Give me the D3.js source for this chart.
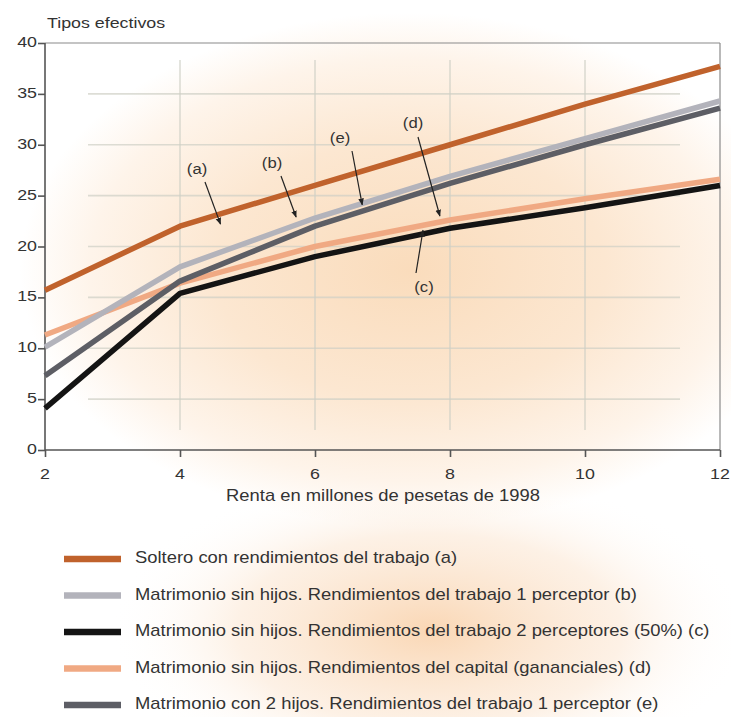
<!DOCTYPE html>
<html><head><meta charset="utf-8">
<script src="https://cdn.jsdelivr.net/npm/d3@7"></script>
<style>html,body{margin:0;padding:0;background:#fff;}svg{display:block;font-family:"Liberation Sans",Arial,sans-serif;}</style>
</head><body>
<svg id="chart" width="731" height="717"></svg>
<script>
const years = [2, 4, 6, 8, 10, 12];
const serieA = [15.7, 22.0, 26.0, 30.0, 34.0, 37.7];
const serieB = [10.1, 18.0, 22.8, 26.9, 30.6, 34.3];
const serieC = [4.1, 15.4, 19.0, 21.8, 23.8, 26.0];
const serieD = [11.3, 16.4, 20.0, 22.6, 24.7, 26.6];
const serieE = [7.3, 16.6, 22.0, 26.2, 30.0, 33.6];
const yTicks = [0, 5, 10, 15, 20, 25, 30, 35, 40];
const xTicks = [2, 4, 6, 8, 10, 12];
const legendLabels = [
  "Soltero con rendimientos del trabajo (a)",
  "Matrimonio sin hijos. Rendimientos del trabajo 1 perceptor (b)",
  "Matrimonio sin hijos. Rendimientos del trabajo 2 perceptores (50%) (c)",
  "Matrimonio sin hijos. Rendimientos del capital (gananciales) (d)",
  "Matrimonio con 2 hijos. Rendimientos del trabajo 1 perceptor (e)"
];
const seriesKeys = ["a", "b", "c", "d", "e"];
const annotations = [
  {key:"a", x:4.6, y:21.9, lx:197, ly:170, tx:205, ty:182},
  {key:"b", x:5.72, y:22.6, lx:272, ly:164, tx:281, ty:176},
  {key:"e", x:6.7, y:23.8, lx:340, ly:139, tx:352, ty:151},
  {key:"d", x:7.85, y:22.7, lx:413, ly:124, tx:418, ty:137},
  {key:"c", x:7.6, y:21.3, lx:424, ly:288, tx:416, ty:273}
];

const colors = {a:"#c0622c", b:"#b3b3bb", c:"#141414", d:"#f0a983", e:"#5d5e65"};
const allSeries = {a:serieA, b:serieB, c:serieC, d:serieD, e:serieE};
const SX = 1.15;

const svg = d3.select("#chart");
const defs = svg.append("defs");
const g1 = defs.append("radialGradient").attr("id","glow1")
  .attr("gradientUnits","userSpaceOnUse").attr("cx",410).attr("cy",270).attr("r",390)
  .attr("gradientTransform","translate(410,270) scale(1,0.66) translate(-410,-270)");
g1.append("stop").attr("offset","0").attr("stop-color","#fadcbc");
g1.append("stop").attr("offset","0.5").attr("stop-color","#fce7d1");
g1.append("stop").attr("offset","0.82").attr("stop-color","#fef4ea");
g1.append("stop").attr("offset","1").attr("stop-color","#ffffff");
const g2 = defs.append("radialGradient").attr("id","glow2")
  .attr("gradientUnits","userSpaceOnUse").attr("cx",430).attr("cy",630).attr("r",320)
  .attr("gradientTransform","translate(430,630) scale(1,0.5) translate(-430,-630)");
g2.append("stop").attr("offset","0").attr("stop-color","#f9d0a8").attr("stop-opacity",0.85);
g2.append("stop").attr("offset","0.6").attr("stop-color","#fbe3cc").attr("stop-opacity",0.5);
g2.append("stop").attr("offset","1").attr("stop-color","#ffffff").attr("stop-opacity",0);
defs.append("marker").attr("id","arrow").attr("viewBox","0 0 10 10").attr("refX",9).attr("refY",5)
  .attr("markerWidth",7).attr("markerHeight",7).attr("orient","auto-start-reverse").attr("markerUnits","userSpaceOnUse")
  .append("path").attr("d","M0,1 L10,5 L0,9 Z").attr("fill","#222");

svg.append("rect").attr("width",731).attr("height",717).attr("fill","#fff");
svg.append("rect").attr("width",731).attr("height",717).attr("fill","url(#glow1)");
svg.append("rect").attr("y",500).attr("width",731).attr("height",217).attr("fill","url(#glow2)");

const x = d3.scaleLinear().domain([2,12]).range([45,720]);
const y = d3.scaleLinear().domain([0,40]).range([450,43]);

function sText(parent, px, py, str, size, anchor){
  return parent.append("text").attr("transform",`translate(${px},${py}) scale(${SX},1)`)
    .attr("text-anchor",anchor||"start").attr("dominant-baseline","middle")
    .attr("font-size",size).attr("fill","#333").text(str);
}

// grid
const grid = svg.append("g");
grid.selectAll("line.h").data(yTicks.filter(v=>v>0&&v<40)).enter().append("line")
  .attr("x1",88).attr("x2",680).attr("y1",d=>y(d)).attr("y2",d=>y(d))
  .attr("stroke","#cfd0c6").attr("stroke-width",1.6).attr("opacity",0.7);
grid.selectAll("line.v").data(xTicks.filter(v=>v>2&&v<12)).enter().append("line")
  .attr("x1",d=>x(d)).attr("x2",d=>x(d)).attr("y1",60).attr("y2",430)
  .attr("stroke","#cfd0c6").attr("stroke-width",1.6).attr("opacity",0.7);

// frame
svg.append("line").attr("x1",45).attr("x2",720).attr("y1",43).attr("y2",43).attr("stroke","#8a8a8a").attr("stroke-width",1.2);
svg.append("line").attr("x1",720).attr("x2",720).attr("y1",43).attr("y2",450).attr("stroke","#8a8a8a").attr("stroke-width",1.2);

// axes
const yAxis = svg.append("g").attr("transform","translate(45,0)")
  .call(d3.axisLeft(y).tickValues(yTicks).tickSize(7).tickFormat(""));
const xAxis = svg.append("g").attr("transform","translate(0,450)")
  .call(d3.axisBottom(x).tickValues(xTicks).tickSize(7).tickFormat(""));
[yAxis,xAxis].forEach(ax=>{
  ax.select(".domain").attr("stroke","#555").attr("stroke-width",1.6);
  ax.selectAll(".tick line").attr("stroke","#555").attr("stroke-width",1.6);
});
yAxis.select(".domain").attr("d","M0,450V43");
xAxis.select(".domain").attr("d","M45,0H720");
yTicks.forEach(v=>sText(svg, 37, y(v), String(v), 15.5, "end"));
xTicks.forEach(v=>sText(svg, x(v), 475, String(v), 15.5, "middle"));

// lines
const line = d3.line().x((d,i)=>x(years[i])).y(d=>y(d));
const drawOrder = ["d","c","b","e","a"];
drawOrder.forEach(k=>{
  svg.append("path").datum(allSeries[k]).attr("d",line).attr("fill","none")
    .attr("stroke",colors[k]).attr("stroke-width",5.5).attr("stroke-linejoin","round").attr("stroke-linecap","butt");
});

// annotations
annotations.forEach(a=>{
  sText(svg, a.lx, a.ly, "("+a.key+")", 14.5, "middle");
  svg.append("line").attr("x1",a.tx).attr("y1",a.ty).attr("x2",x(a.x)).attr("y2",y(a.y)-3)
    .attr("stroke","#222").attr("stroke-width",1.2).attr("marker-end","url(#arrow)");
});

// titles
sText(svg, 47, 24, "Tipos efectivos", 15.5, "start");
sText(svg, 383, 497, "Renta en millones de pesetas de 1998", 16, "middle");

// legend
const leg = svg.append("g");
const rowY = d3.scalePoint().domain(seriesKeys).range([559,705]);
seriesKeys.forEach((k,i)=>{
  leg.append("line").attr("x1",64).attr("x2",121).attr("y1",rowY(k)).attr("y2",rowY(k))
    .attr("stroke",colors[k]).attr("stroke-width",6.5);
  sText(leg, 135, rowY(k), legendLabels[i], 16, "start");
});
</script>
</body></html>
